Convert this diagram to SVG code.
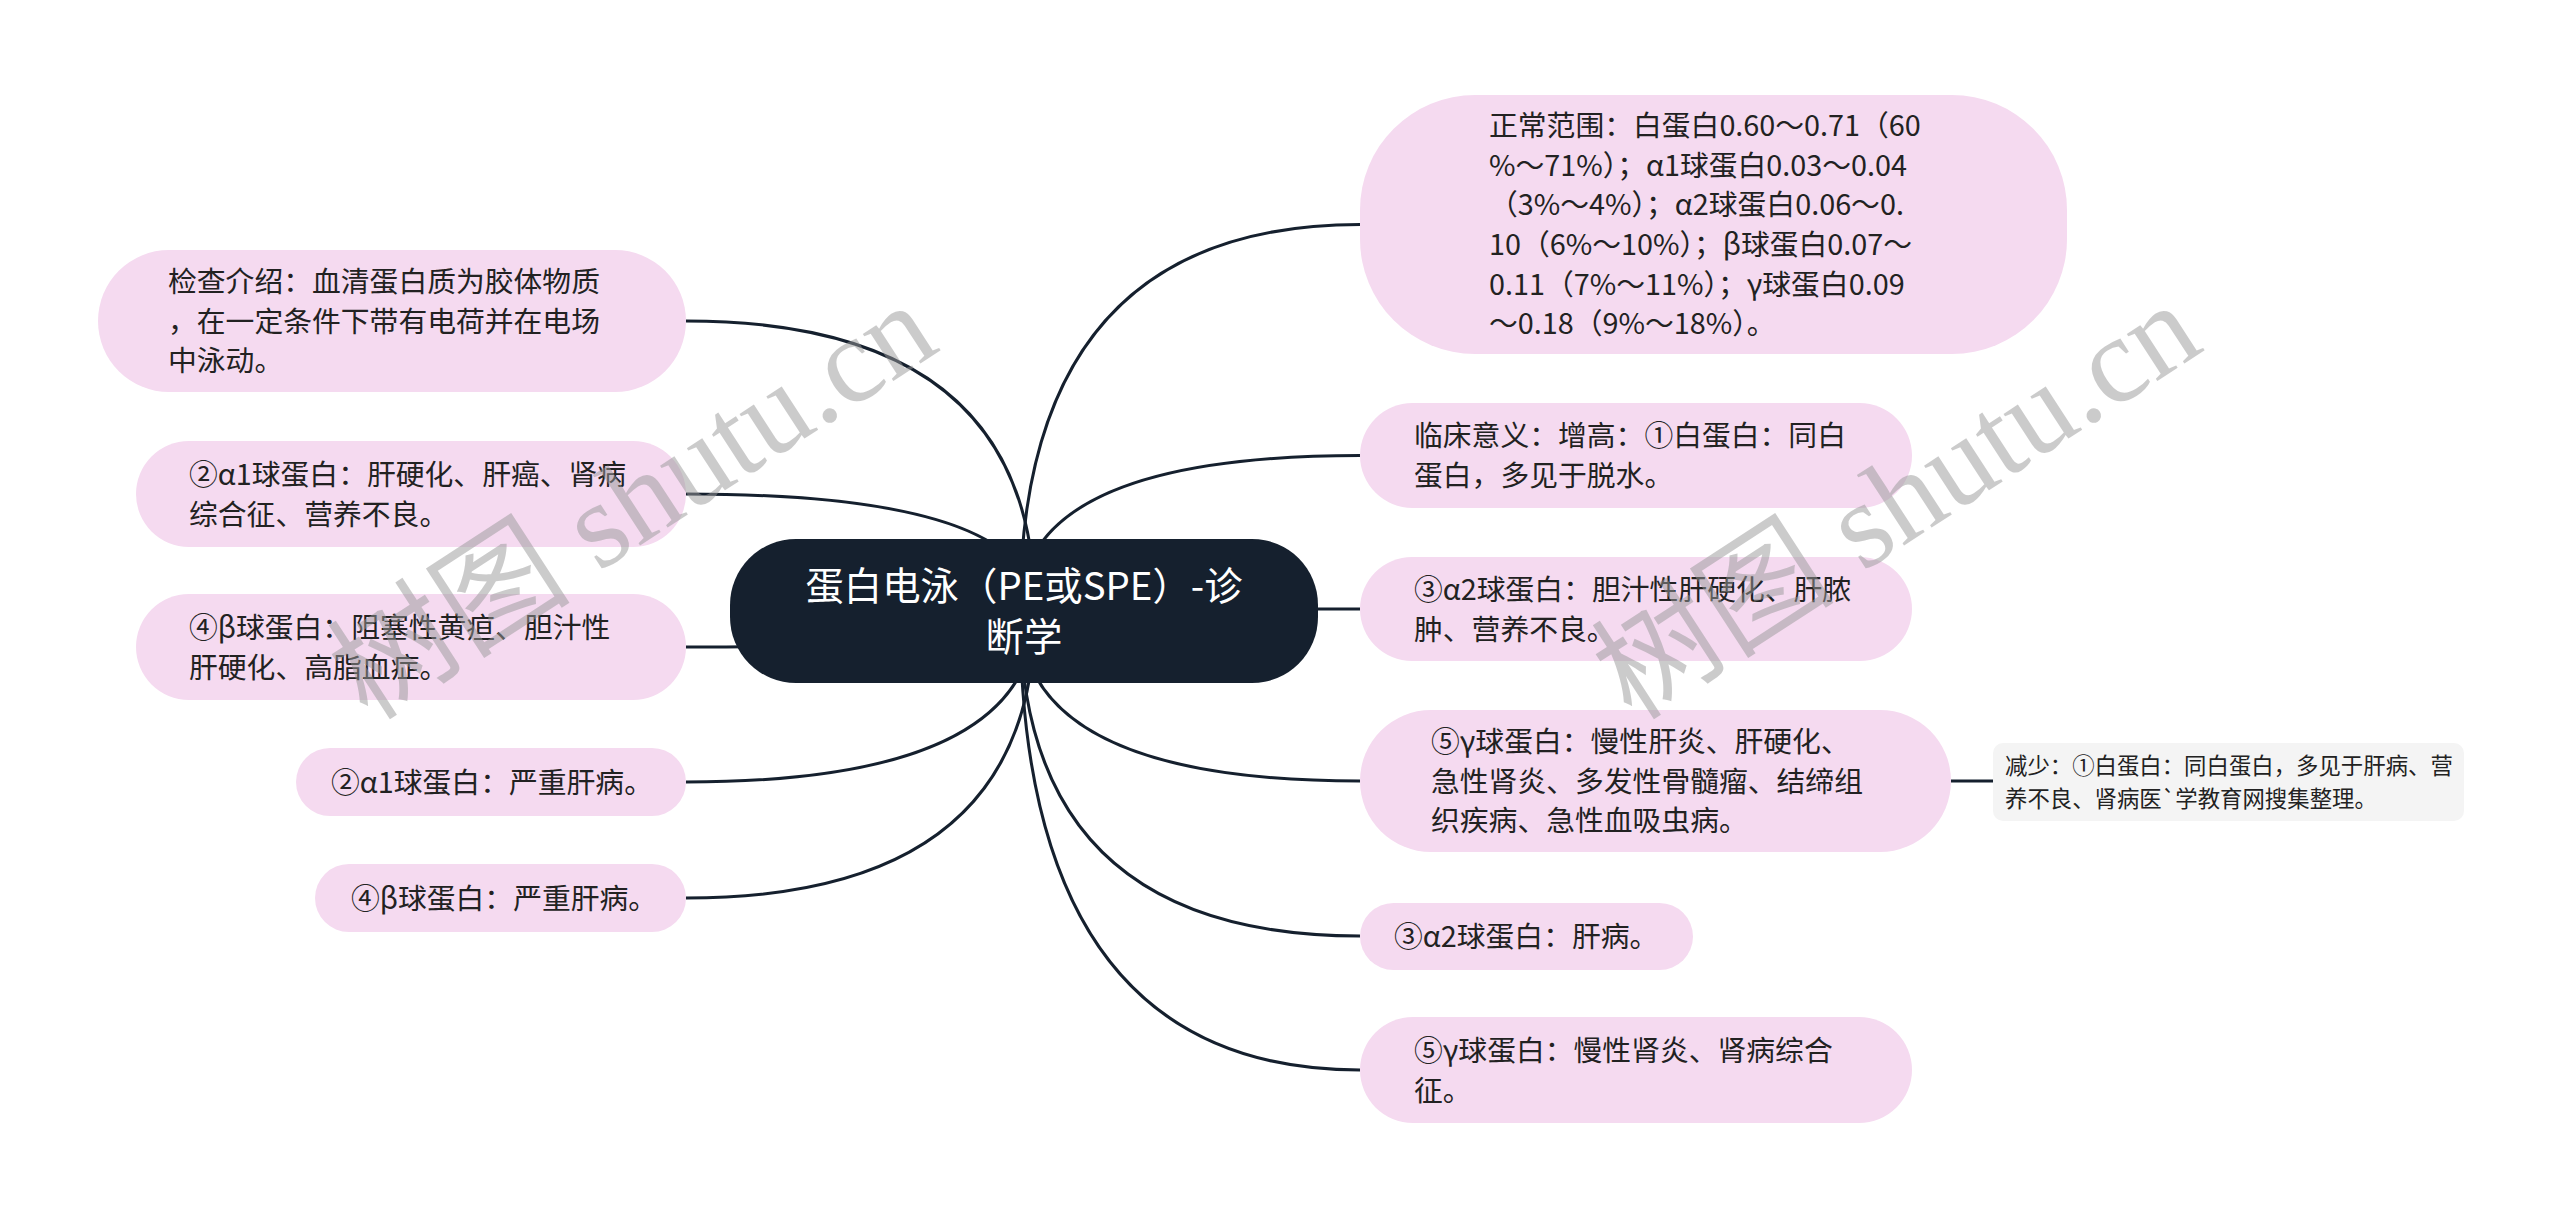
<svg xmlns="http://www.w3.org/2000/svg" width="2560" height="1219" viewBox="0 0 2560 1219">
<style>
.lk{fill:none;stroke:#15202e;stroke-width:3}
.nd{fill:#f5daf0}
.t{font-family:"Noto Sans CJK SC","Noto Sans",sans-serif;font-size:28.8px;fill:#222}
.ts{font-family:"Noto Sans CJK SC","Noto Sans",sans-serif;font-size:22.4px;fill:#222}
.tc{font-family:"Noto Sans CJK SC","Noto Sans",sans-serif;font-size:38.4px;fill:#fff}
.wm{font-family:"Liberation Serif","Noto Sans CJK SC",serif;font-size:122px;fill:#999;opacity:0.5}
</style>
<rect width="2560" height="1219" fill="#fff"/>
<g id="connectors">
<path class="lk" d="M1020 611 Q1020 224.5 1360 224.5"/>
<path class="lk" d="M1020 611 Q1020 455.5 1360 455.5"/>
<path class="lk" d="M1020 609 L1360 609"/>
<path class="lk" d="M1020 611 Q1020 781 1360 781"/>
<path class="lk" d="M1020 611 Q1020 936 1360 936"/>
<path class="lk" d="M1020 611 Q1020 1070 1360 1070"/>
<path class="lk" d="M1035 611 Q1035 321 686 321"/>
<path class="lk" d="M1035 611 Q1035 494 686 494"/>
<path class="lk" d="M1035 611 Q1035 647 686 647"/>
<path class="lk" d="M1035 611 Q1035 782 686 782"/>
<path class="lk" d="M1035 611 Q1035 898 686 898"/>
<path class="lk" d="M1951 781 L1993 781"/>
</g>
<g id="root">
<rect x="730" y="539" width="588" height="144" rx="66" fill="#15202e"/>
<text class="tc" text-anchor="middle"><tspan x="1024" y="599.7">蛋白电泳（PE或SPE）-诊</tspan><tspan x="1024" y="650.7">断学</tspan></text>
</g>
<g id="node-range">
<rect class="nd" x="1360" y="95" width="707" height="259" rx="115"/>
<text class="t"><tspan x="1489" y="136.2">正常范围：白蛋白0.60～0.71（60</tspan><tspan x="1489" y="175.8">%～71%）；α1球蛋白0.03～0.04</tspan><tspan x="1489" y="215.4">（3%～4%）；α2球蛋白0.06～0.</tspan><tspan x="1489" y="255">10（6%～10%）；β球蛋白0.07～</tspan><tspan x="1489" y="294.6">0.11（7%～11%）；γ球蛋白0.09</tspan><tspan x="1489" y="334.2">～0.18（9%～18%）。</tspan></text>
</g>
<g id="node-clinical">
<rect class="nd" x="1360" y="403" width="552" height="105" rx="52.5"/>
<text class="t"><tspan x="1414" y="446.4">临床意义：增高：①白蛋白：同白</tspan><tspan x="1414" y="486">蛋白，多见于脱水。</tspan></text>
</g>
<g id="node-a2-up">
<rect class="nd" x="1360" y="557" width="552" height="104" rx="52"/>
<text class="t"><tspan x="1414" y="599.9">③α2球蛋白：胆汁性肝硬化、肝脓</tspan><tspan x="1414" y="639.5">肿、营养不良。</tspan></text>
</g>
<g id="node-g-up">
<rect class="nd" x="1360" y="710" width="591" height="142" rx="71"/>
<text class="t"><tspan x="1431" y="752.1">⑤γ球蛋白：慢性肝炎、肝硬化、</tspan><tspan x="1431" y="791.7">急性肾炎、多发性骨髓瘤、结缔组</tspan><tspan x="1431" y="831.3">织疾病、急性血吸虫病。</tspan></text>
</g>
<g id="node-decrease">
<rect x="1993" y="743" width="471" height="78" rx="10" fill="#f4f4f4"/>
<text class="ts"><tspan x="2005" y="773.8">减少：①白蛋白：同白蛋白，多见于肝病、营</tspan><tspan x="2005" y="806.8">养不良、肾病医`学教育网搜集整理。</tspan></text>
</g>
<g id="node-a2-down">
<rect class="nd" x="1360" y="903" width="333" height="67" rx="33.5"/>
<text class="t"><tspan x="1394" y="946.7">③α2球蛋白：肝病。</tspan></text>
</g>
<g id="node-g-down">
<rect class="nd" x="1360" y="1017" width="552" height="106" rx="53"/>
<text class="t"><tspan x="1414" y="1060.9">⑤γ球蛋白：慢性肾炎、肾病综合</tspan><tspan x="1414" y="1100.5">征。</tspan></text>
</g>
<g id="node-intro">
<rect class="nd" x="98" y="250" width="588" height="142" rx="71"/>
<text class="t"><tspan x="168" y="292.1">检查介绍：血清蛋白质为胶体物质</tspan><tspan x="168" y="331.7">，在一定条件下带有电荷并在电场</tspan><tspan x="168" y="371.3">中泳动。</tspan></text>
</g>
<g id="node-a1-up">
<rect class="nd" x="136" y="441" width="550" height="106" rx="53"/>
<text class="t"><tspan x="189" y="484.9">②α1球蛋白：肝硬化、肝癌、肾病</tspan><tspan x="189" y="524.5">综合征、营养不良。</tspan></text>
</g>
<g id="node-b-up">
<rect class="nd" x="136" y="594" width="550" height="106" rx="53"/>
<text class="t"><tspan x="189" y="637.9">④β球蛋白：阻塞性黄疸、胆汁性</tspan><tspan x="189" y="677.5">肝硬化、高脂血症。</tspan></text>
</g>
<g id="node-a1-down">
<rect class="nd" x="296" y="748" width="390" height="68" rx="34"/>
<text class="t"><tspan x="331" y="792.7">②α1球蛋白：严重肝病。</tspan></text>
</g>
<g id="node-b-down">
<rect class="nd" x="315" y="864" width="371" height="68" rx="34"/>
<text class="t"><tspan x="351" y="908.7">④β球蛋白：严重肝病。</tspan></text>
</g>
<g id="watermark">
<text class="wm" transform="translate(368 722) rotate(-33)">树图 shutu.cn</text>
<text class="wm" transform="translate(1632 722) rotate(-33)">树图 shutu.cn</text>
</g>
</svg>
